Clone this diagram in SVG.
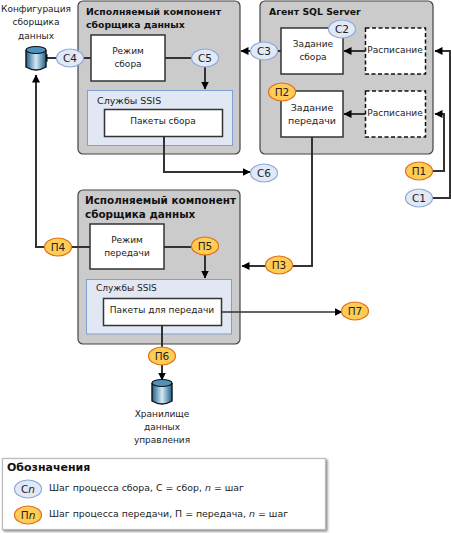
<svg xmlns="http://www.w3.org/2000/svg" width="451" height="533" viewBox="0 0 451 533">
<style>
text{font-family:"DejaVu Sans",Verdana,sans-serif;font-size:9px;fill:#222;text-anchor:middle}
.t{font-weight:bold;font-size:9.3px;text-anchor:start;fill:#111}
.t2{font-size:10.4px}
.s{text-anchor:start;fill:#222}
.k{font-size:9.4px}
.c{fill:#cbcbcb;stroke:#444;stroke-width:1.2}
.w{fill:#fff;stroke:#333;stroke-width:1.5}
.d{fill:#fff;stroke:#111;stroke-width:1.5;stroke-dasharray:4 2.5}
.b{fill:#e1e8f4;stroke:#7f9fd2;stroke-width:1}
.e{fill:#e1e9f6;stroke:#8fa9d8;stroke-width:1.2}
.o{fill:#ffcc55;stroke:#e0701a;stroke-width:1.2}
.l{fill:none;stroke:#333;stroke-width:2}
.n{font-size:10.5px;fill:#222}
</style>
<defs>
<marker id="a" markerWidth="9" markerHeight="9" refX="7.500" refY="4" orient="auto" markerUnits="userSpaceOnUse"><path d="M0 0L8 4L0 8z" fill="#000"/></marker>
<linearGradient id="g" x1="0" x2="1" y1="0" y2="0"><stop offset="0" stop-color="#1d5f8c"/><stop offset=".5" stop-color="#d5e8f2"/><stop offset="1" stop-color="#1d5f8c"/></linearGradient>
<filter id="sh" x="-2%" y="-5%" width="104%" height="110%"><feDropShadow dx="1.5" dy="1.5" stdDeviation="1" flood-color="#888"/></filter>
</defs>

<g id="collector-top">
<rect class="c" x="78" y="1" width="162" height="153" rx="5"/>
<text class="t" x="86" y="15">Исполняемый компонент</text>
<text class="t" x="86" y="28">сборщика данных</text>
<rect class="w" x="91" y="35" width="74" height="46"/>
<text x="128" y="54">Режим</text>
<text x="128" y="67">сбора</text>
<rect class="b" x="87.500" y="90.500" width="145" height="55"/>
<text class="s" x="97" y="104" style="font-size:9.5px">Службы SSIS</text>
<rect class="w" x="104.500" y="109.500" width="118" height="27"/>
<text x="163" y="124">Пакеты сбора</text>
</g>

<g id="agent">
<rect class="c" x="260" y="1" width="173" height="153" rx="5"/>
<text class="t" x="269" y="15">Агент SQL Server</text>
<rect class="w" x="281" y="28" width="62" height="46"/>
<text x="313" y="47">Задание</text>
<text x="313" y="60">сбора</text>
<rect class="d" x="365.500" y="28" width="60" height="46"/>
<text x="395" y="53">Расписание</text>
<rect class="w" x="281" y="91" width="62" height="46"/>
<text x="312" y="111" style="font-size:9.5px">Задание</text>
<text x="312" y="124" style="font-size:9.5px">передачи</text>
<rect class="d" x="365.500" y="91" width="60" height="46"/>
<text x="395" y="116">Расписание</text>
</g>

<g id="collector-bottom">
<rect class="c" x="78" y="190" width="162" height="154" rx="5"/>
<text class="t t2" x="85" y="204">Исполняемый компонент</text>
<text class="t t2" x="85" y="218">сборщика данных</text>
<rect class="w" x="90" y="224" width="74" height="45"/>
<text x="127" y="243">Режим</text>
<text x="127" y="256">передачи</text>
<rect class="b" x="86.500" y="279.500" width="145" height="54.500"/>
<text class="s" x="96" y="291" >Службы SSIS</text>
<rect class="w" x="103.500" y="298.500" width="118" height="27"/>
<text x="162" y="313">Пакеты для передачи</text>
</g>

<g id="connectors">
<path class="l" d="M91 58H40" marker-end="url(#a)"/>
<path class="l" d="M165 58H205V89" marker-end="url(#a)"/>
<path class="l" d="M164 137V172H250" marker-end="url(#a)"/>
<path class="l" d="M281 51H241" marker-end="url(#a)"/>
<path class="l" d="M365 51H344" marker-end="url(#a)"/>
<path class="l" d="M365 114H344" marker-end="url(#a)"/>
<path class="l" d="M430 198H450V51H435" marker-end="url(#a)"/>
<path class="l" d="M430 171H444V114H435" marker-end="url(#a)"/>
<path class="l" d="M312 137V266H242" marker-end="url(#a)"/>
<path class="l" d="M90 247H36V75" marker-end="url(#a)"/>
<path class="l" d="M164 247H205V278" marker-end="url(#a)"/>
<path class="l" d="M222 312H342" marker-end="url(#a)" style="stroke-width:1.500"/>
<path class="l" d="M162 326V380" marker-end="url(#a)"/>
</g>

<g id="db-config">
<path d="M26 50V67Q36 73 46 67V50" fill="url(#g)" stroke="#111" stroke-width="1.4"/>
<ellipse cx="36" cy="50" rx="10" ry="3.500" fill="#4e92bd" stroke="#111" stroke-width="1.2"/>
<text x="36" y="12">Конфигурация</text>
<text x="36" y="25">сборщика</text>
<text x="36" y="39">данных</text>
</g>
<g id="db-mgmt">
<path d="M152 383V401Q162 407 172 401V383" fill="url(#g)" stroke="#111" stroke-width="1.4"/>
<ellipse cx="162" cy="383" rx="10" ry="3.500" fill="#4e92bd" stroke="#111" stroke-width="1.2"/>
<text x="162" y="417">Хранилище</text>
<text x="162" y="430">данных</text>
<text x="162" y="443">управления</text>
</g>

<g id="c4"><ellipse class="e" cx="70" cy="58" rx="13.500" ry="9"/><text class="n" x="70" y="62">C4</text></g>
<g id="c5"><ellipse class="e" cx="205" cy="58" rx="13.500" ry="9"/><text class="n" x="205" y="62">C5</text></g>
<g id="c6"><ellipse class="e" cx="264" cy="173" rx="13.500" ry="9"/><text class="n" x="264" y="177">C6</text></g>
<g id="c3"><ellipse class="e" cx="264" cy="51" rx="13.500" ry="9"/><text class="n" x="264" y="55">C3</text></g>
<g id="c2"><ellipse class="e" cx="342" cy="29" rx="13.500" ry="9"/><text class="n" x="342" y="33">C2</text></g>
<g id="c1"><ellipse class="e" cx="419" cy="198" rx="13.500" ry="9"/><text class="n" x="419" y="202">C1</text></g>
<g id="p1"><ellipse class="o" cx="419" cy="171" rx="13.500" ry="9"/><text class="n" x="419" y="175">П1</text></g>
<g id="p2"><ellipse class="o" cx="282" cy="92" rx="13.500" ry="9"/><text class="n" x="282" y="96">П2</text></g>
<g id="p3"><ellipse class="o" cx="279" cy="265" rx="13.500" ry="9"/><text class="n" x="279" y="269">П3</text></g>
<g id="p4"><ellipse class="o" cx="58" cy="247" rx="13.500" ry="9"/><text class="n" x="58" y="251">П4</text></g>
<g id="p5"><ellipse class="o" cx="205" cy="246" rx="13.500" ry="9"/><text class="n" x="205" y="250">П5</text></g>
<g id="p6"><ellipse class="o" cx="162" cy="356" rx="13.500" ry="9"/><text class="n" x="162" y="360">П6</text></g>
<g id="p7"><ellipse class="o" cx="355" cy="311" rx="13.500" ry="9"/><text class="n" x="355" y="315">П7</text></g>

<g id="legend">
<rect x="2.500" y="458.500" width="323" height="71" fill="#fff" stroke="#bbb" stroke-width="1.2" filter="url(#sh)"/>
<text class="t" x="7" y="471" style="font-size:11px">Обозначения</text>
<ellipse class="e" cx="28" cy="489" rx="13.500" ry="9"/><text class="n" x="28" y="493">C<tspan font-style="italic">n</tspan></text>
<text class="s k" x="49" y="491">Шаг процесса сбора, С = сбор, <tspan font-style="italic">n</tspan> = шаг</text>
<ellipse class="o" cx="28" cy="515" rx="13.500" ry="9"/><text class="n" x="28" y="519">П<tspan font-style="italic">n</tspan></text>
<text class="s k" x="49" y="517">Шаг процесса передачи, П = передача, <tspan font-style="italic">n</tspan> = шаг</text>
</g>
</svg>
